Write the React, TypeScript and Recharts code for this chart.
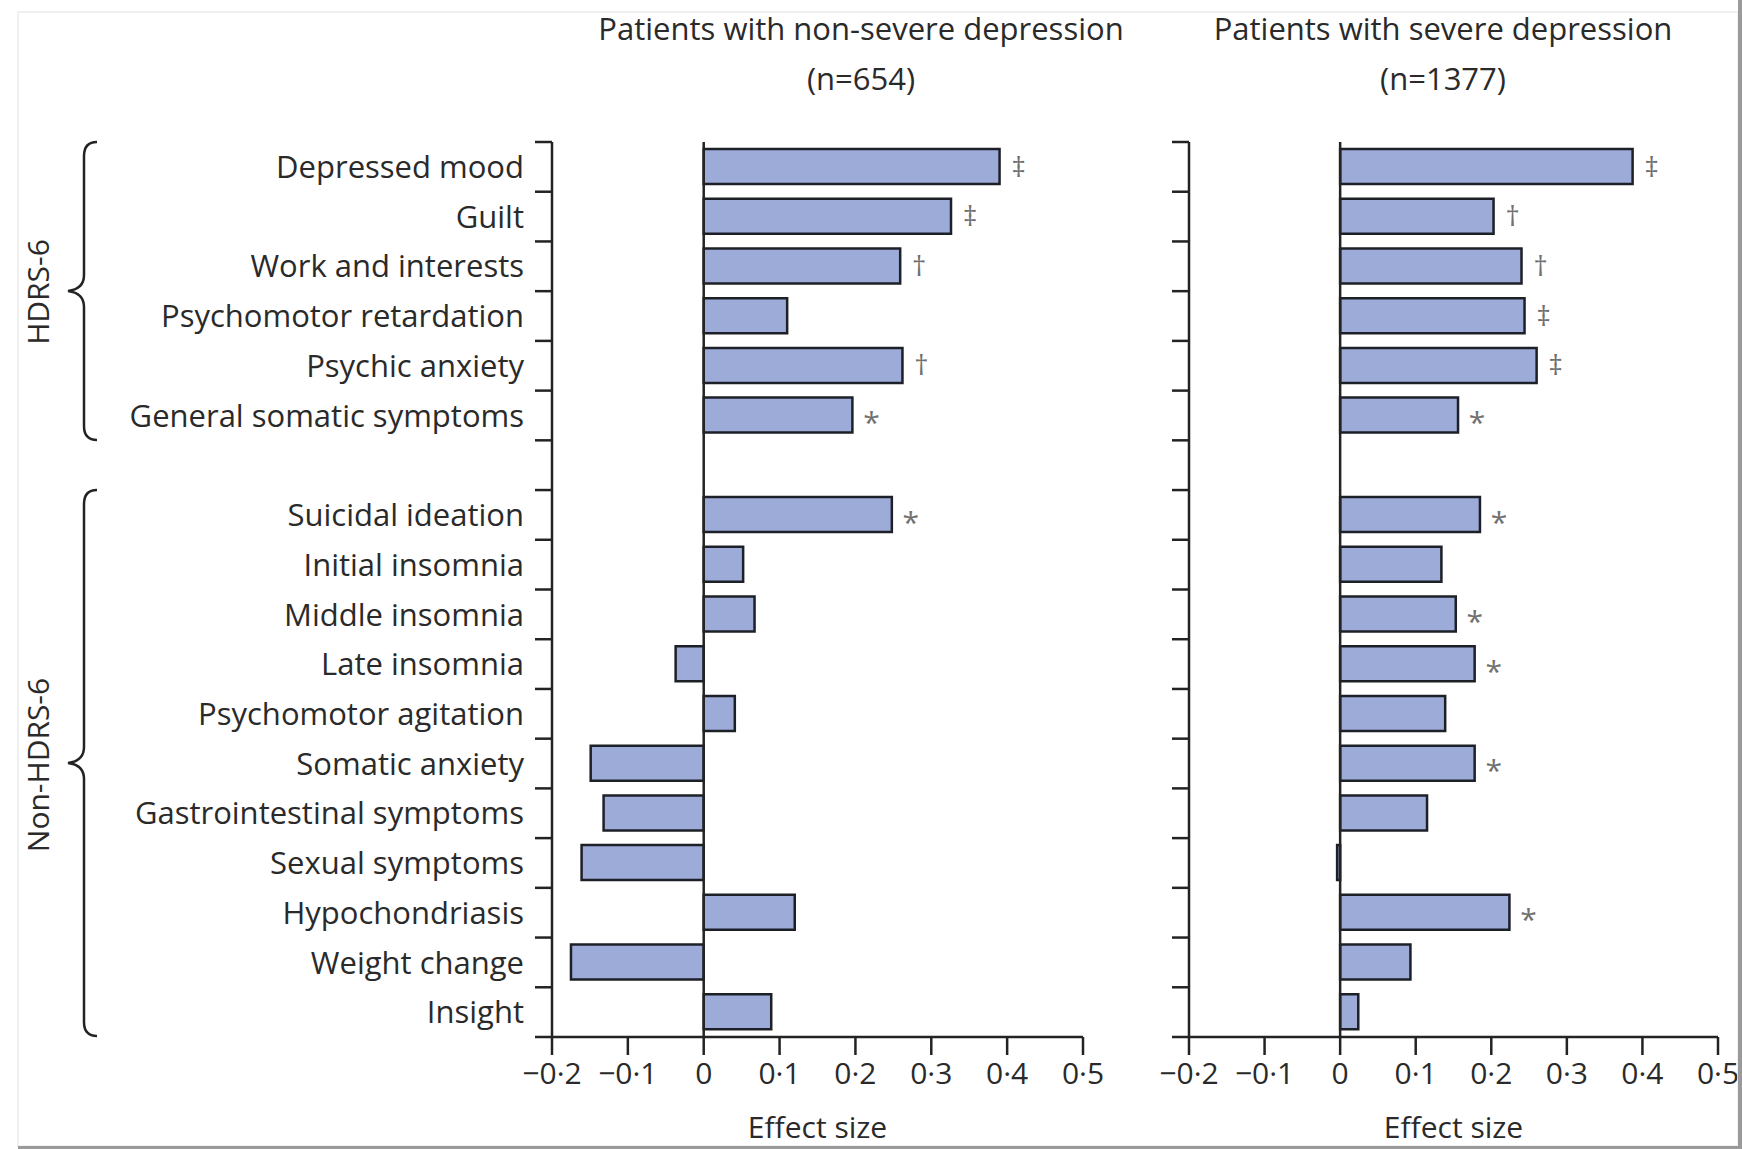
import React from 'react';
import { BarChart, Bar, XAxis, YAxis, ReferenceLine, LabelList, Label } from 'recharts';

// rows top to bottom; the blank entry is the gap between HDRS-6 and non-HDRS-6 items
const categories = [
  'Depressed mood', 'Guilt', 'Work and interests', 'Psychomotor retardation',
  'Psychic anxiety', 'General somatic symptoms', ' ',
  'Suicidal ideation', 'Initial insomnia', 'Middle insomnia', 'Late insomnia',
  'Psychomotor agitation', 'Somatic anxiety', 'Gastrointestinal symptoms',
  'Sexual symptoms', 'Hypochondriasis', 'Weight change', 'Insight',
];

const nonSevereValues = [
  0.39, 0.326, 0.259, 0.11, 0.262, 0.196, null,
  0.248, 0.052, 0.067, -0.037, 0.041, -0.149, -0.132, -0.161, 0.12, -0.175, 0.089,
];
const severeValues = [
  0.387, 0.203, 0.24, 0.244, 0.26, 0.156, null,
  0.185, 0.134, 0.153, 0.178, 0.139, 0.178, 0.115, -0.004, 0.224, 0.093, 0.024,
];
const nonSevereMarks = ['‡', '‡', '†', '', '†', '*', '', '*', '', '', '', '', '', '', '', '', '', ''];
const severeMarks = ['‡', '†', '†', '‡', '‡', '*', '', '*', '', '*', '*', '', '*', '', '', '*', '', ''];

const xTicks = [-0.2, -0.1, 0, 0.1, 0.2, 0.3, 0.4, 0.5];

const data = categories.map((name, i) => ({
  name,
  nonSevere: nonSevereValues[i],
  severe: severeValues[i],
  nonSevereMark: nonSevereMarks[i],
  severeMark: severeMarks[i],
}));

const FONT = '"Open Sans", "DejaVu Sans", sans-serif';
const INK = '#232323';
const TEXT = '#2a2a2a';
const BAR_FILL = '#9cabd8';
const PLOT_TOP = 142;
const PLOT_BOTTOM = 1037;
const BAND = (PLOT_BOTTOM - PLOT_TOP) / categories.length;

const fmt = (v: number) => {
  if (Math.abs(v) < 1e-9) return '0';
  return (v < 0 ? '\u2212' : '') + Math.abs(v).toFixed(1).replace('.', '\u00b7');
};

// tick marks sit on the row boundaries, labels on the row centres
function RowTick(props: any) {
  const { x, y, payload, index, showLabel } = props;
  const last = index === categories.length - 1;
  return (
    <g>
      <line x1={x - 17} x2={x} y1={y - BAND / 2} y2={y - BAND / 2} stroke={INK} strokeWidth={2.5} />
      {last && <line x1={x - 17} x2={x} y1={y + BAND / 2} y2={y + BAND / 2} stroke={INK} strokeWidth={2.5} />}
      {showLabel && payload.value.trim() && (
        <text x={x - 28} y={y} dy="0.36em" textAnchor="end" fontSize={31} fill={TEXT} fontFamily={FONT}>
          {payload.value}
        </text>
      )}
    </g>
  );
}

function MarkLabel(props: any) {
  const { x, y, width, height, value } = props;
  if (!value) return null;
  const star = value === '*';
  return (
    <text
      x={x + width + 19}
      y={y + height / 2}
      dy={star ? '0.6em' : '0.36em'}
      textAnchor="middle"
      fontSize={star ? 30 : 28}
      fill="#707070"
      fontFamily={FONT}
    >
      {value}
    </text>
  );
}

function Panel({ dataKey, markKey, left, width, yAxisWidth, rightMargin, showLabels }: any) {
  return (
    <div style={{ position: 'absolute', left, top: 0 }}>
      <BarChart
        width={width}
        height={1149}
        data={data}
        layout="vertical"
        margin={{ top: PLOT_TOP, right: rightMargin, bottom: 0, left: 0 }}
      >
        <XAxis
          type="number"
          domain={[-0.2, 0.5]}
          ticks={xTicks}
          tickFormatter={fmt}
          interval={0}
          height={1149 - PLOT_BOTTOM}
          tickSize={18}
          tickMargin={8}
          stroke={INK}
          strokeWidth={2.5}
          tick={{ fill: TEXT, fontSize: 30, fontFamily: FONT }}
          allowDataOverflow
        >
          <Label
            value="Effect size"
            position="insideBottom"
            offset={11}
            style={{ fill: TEXT, fontSize: 30, fontFamily: FONT }}
          />
        </XAxis>
        <YAxis
          type="category"
          dataKey="name"
          width={yAxisWidth}
          interval={0}
          tickSize={0}
          tickMargin={0}
          tickLine={false}
          stroke={INK}
          strokeWidth={2.5}
          tick={<RowTick showLabel={showLabels} />}
        />
        <Bar
          dataKey={dataKey}
          fill={BAR_FILL}
          stroke="#1d2027"
          strokeWidth={2.5}
          barSize={35}
          isAnimationActive={false}
        >
          <LabelList dataKey={markKey} content={<MarkLabel />} />
        </Bar>
        <ReferenceLine x={0} stroke={INK} strokeWidth={2.5} />
      </BarChart>
    </div>
  );
}

function Brace({ top, bottom }: { top: number; bottom: number }) {
  const mid = (top + bottom) / 2;
  const d = [
    `M97,${top}`,
    `Q84,${top} 84,${top + 14}`,
    `L84,${mid - 16}`,
    `Q84,${mid - 2} 68,${mid}`,
    `Q84,${mid + 2} 84,${mid + 16}`,
    `L84,${bottom - 14}`,
    `Q84,${bottom} 97,${bottom}`,
  ].join(' ');
  return <path d={d} fill="none" stroke={INK} strokeWidth={2.5} />;
}

export default function App() {
  return (
    <div style={{ position: 'absolute', left: 0, top: 0, width: 1742, height: 1149, background: '#fff', overflow: 'hidden' }}>
      <Panel dataKey="nonSevere" markKey="nonSevereMark" left={0} width={1120} yAxisWidth={552} rightMargin={37} showLabels />
      <Panel dataKey="severe" markKey="severeMark" left={1100} width={642} yAxisWidth={89} rightMargin={24} showLabels={false} />
      <svg
        width={1742}
        height={1149}
        style={{ position: 'absolute', left: 0, top: 0, pointerEvents: 'none' }}
        fontFamily={FONT}
      >
        <rect x={18} y={12} width={1720} height={1134} fill="none" stroke="#ececec" strokeWidth={1.5} />
        <text x={861} y={40} textAnchor="middle" fontSize={31} fill={TEXT}>Patients with non-severe depression</text>
        <text x={861} y={90} textAnchor="middle" fontSize={31} fill={TEXT}>(n=654)</text>
        <text x={1443} y={40} textAnchor="middle" fontSize={31} fill={TEXT}>Patients with severe depression</text>
        <text x={1443} y={90} textAnchor="middle" fontSize={31} fill={TEXT}>(n=1377)</text>
        <Brace top={142} bottom={440} />
        <Brace top={490} bottom={1036} />
        <text transform="translate(49,292) rotate(-90)" textAnchor="middle" fontSize={30} fill={TEXT}>HDRS-6</text>
        <text transform="translate(49,765) rotate(-90)" textAnchor="middle" fontSize={30} fill={TEXT}>Non-HDRS-6</text>
        <rect x={1738} y={0} width={4} height={1149} fill="#9a9a9a" />
        <rect x={18} y={1146} width={1724} height={3} fill="#9a9a9a" />
      </svg>
    </div>
  );
}
